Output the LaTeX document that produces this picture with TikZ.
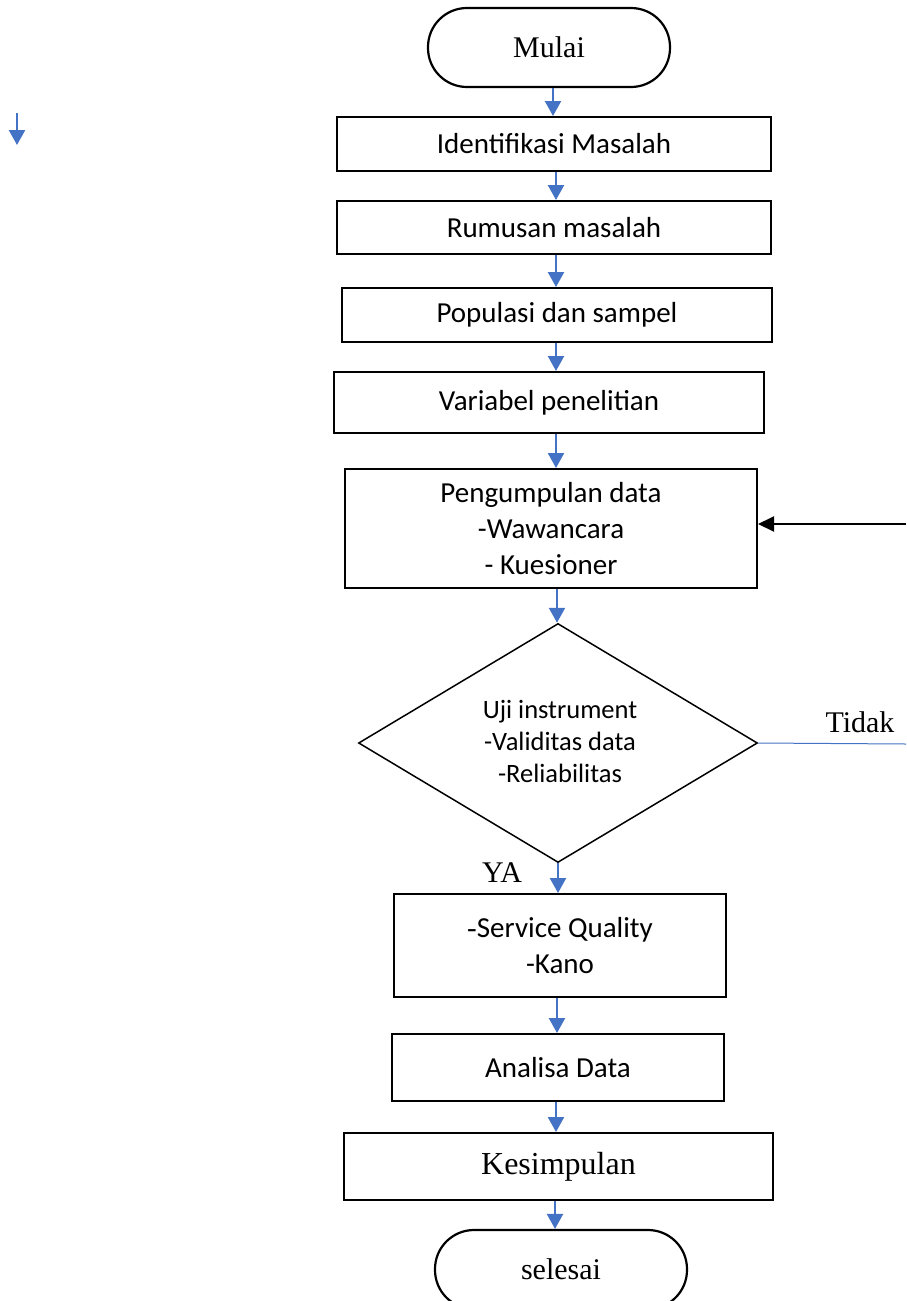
\documentclass[tikz,border=0pt]{standalone}
\usepackage{fontspec}
\setmainfont{Carlito}
\newfontfamily\seriffont{Liberation Serif}
\usetikzlibrary{shapes.geometric,arrows.meta}
\definecolor{flowblue}{RGB}{68,114,196}

\begin{document}
\begin{tikzpicture}[x=1pt,y=-1pt,
  stepbox/.style={draw=black, line width=2pt, rectangle, inner sep=0pt,
    align=center, font=\fontsize{29}{36}\selectfont},
  terminal/.style={draw=black, line width=2.2pt, rectangle, rounded corners=39pt,
    inner sep=0pt, align=center, minimum width=#1, minimum height=79pt,
    font=\seriffont\fontsize{30}{34}\selectfont},
  decision/.style={draw=black, line width=1.5pt, diamond, inner sep=0pt},
  flow/.style={draw=flowblue, line width=2.3pt, -{Triangle[width=16pt,length=15pt]}},
  back/.style={draw=black, line width=2pt, -{Triangle[width=15pt,length=16pt]}},
  serifnote/.style={font=\seriffont\fontsize{30}{34}\selectfont}
]
\useasboundingbox (0,0) rectangle (906,1301);
\clip (0,0) rectangle (906,1301);

% process steps
\node[terminal=242pt] (mulai) at (549,47.5) {Mulai};
\node[stepbox, minimum width=434pt, minimum height=54pt] (ident) at (554,144) {Identifikasi Masalah};
\node[stepbox, minimum width=434pt, minimum height=53pt] (rumus) at (554,227.5) {Rumusan masalah};
\node[stepbox, minimum width=430pt, minimum height=54pt] (popul) at (557,315) {Populasi dan sampel};
\node[stepbox, minimum width=430pt, minimum height=61pt] (varia) at (549,402.5) {Variabel penelitian};
\node[stepbox, minimum width=412pt, minimum height=119pt] (kumpul) at (551,528.5)
  {Pengumpulan data\\-Wawancara\\- Kuesioner};
\node[decision, minimum width=399pt, minimum height=239pt] (uji) at (558,743) {};
\node[align=center, font=\fontsize{26.5}{32}\selectfont] (ujitext) at (560,741)
  {Uji instrument\\-Validitas data\\-Reliabilitas};
\node[stepbox, minimum width=332pt, minimum height=103pt] (metode) at (560,945.5)
  {{\seriffont -}Service Quality\\-Kano};
\node[stepbox, minimum width=332pt, minimum height=67pt] (analisa) at (558,1067.5) {Analisa Data};
\node[stepbox, minimum width=429pt, minimum height=67pt, font=\seriffont\fontsize{32}{36}\selectfont]
  (simpul) at (558.5,1166.5) {Kesimpulan};
\node[terminal=252pt] (selesai) at (561,1269.5) {selesai};

% labels
\node[serifnote] (ya) at (502,873) {YA};
\node[serifnote] (tidak) at (860,722) {Tidak};

% main flow
\draw[flow] (mulai.south -| 553,0) -- (ident.north -| 553,0);
\draw[flow] (ident.south -| 556,0) -- (rumus.north -| 556,0);
\draw[flow] (rumus.south -| 556,0) -- (popul.north -| 556,0);
\draw[flow] (popul.south -| 556,0) -- (varia.north -| 556,0);
\draw[flow] (varia.south -| 556,0) -- (kumpul.north -| 556,0);
\draw[flow] (kumpul.south -| 557,0) -- (uji.north -| 557,0);
\draw[flow] (uji.south -| 558,0) -- (metode.north -| 558,0);
\draw[flow] (metode.south -| 557,0) -- (analisa.north -| 557,0);
\draw[flow] (analisa.south -| 556,0) -- (simpul.north -| 556,0);
\draw[flow] (simpul.south -| 555,0) -- (selesai.north -| 555,0);

% "Tidak" branch running off to the right, and the return into data collection
\coordinate (tidakend) at (906,744);
\coordinate (backstart) at (906,524);
\draw[flowblue, line width=1pt] (uji.east) -- (tidakend);
\draw[back] (backstart) -- (backstart -| kumpul.east);

% lone arrow at the left margin
\coordinate (loneA) at (17,113);
\coordinate (loneB) at (17,145);
\draw[flow] (loneA) -- (loneB);
\end{tikzpicture}
\end{document}
